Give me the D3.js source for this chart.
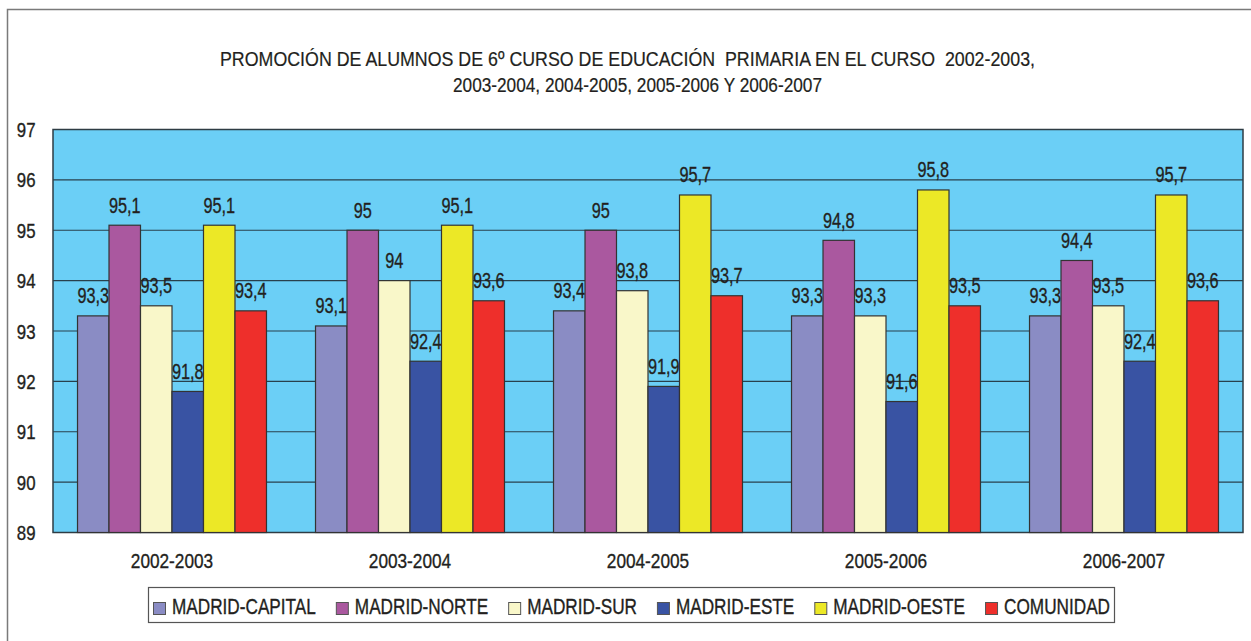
<!DOCTYPE html>
<html>
<head>
<meta charset="utf-8">
<script src="https://cdn.jsdelivr.net/npm/d3@7"></script>
<style>
  body { margin: 0; background: #fff; }
  svg { display: block; font-family: "Liberation Sans", Arial, sans-serif; }
  svg text { stroke: #231f20; stroke-width: 0.35px; }
</style>
</head>
<body>
<svg id="chart" width="1251" height="641"></svg>
<script>
const courses = ['2002-2003', '2003-2004', '2004-2005', '2005-2006', '2006-2007']
const zones = ['MADRID-CAPITAL', 'MADRID-NORTE', 'MADRID-SUR', 'MADRID-ESTE', 'MADRID-OESTE', 'COMUNIDAD']
const zoneColors = ['#8a8cc4', '#aa589f', '#f9f7c9', '#3953a3', '#ece826', '#ee2f2b']

// one array per zone, in course order
const capital = [93.3, 93.1, 93.4, 93.3, 93.3]
const norte = [95.1, 95, 95, 94.8, 94.4]
const sur = [93.5, 94, 93.8, 93.3, 93.5]
const este = [91.8, 92.4, 91.9, 91.6, 92.4]
const oeste = [95.1, 95.1, 95.7, 95.8, 95.7]
const comunidad = [93.4, 93.6, 93.7, 93.5, 93.6]
const series = [capital, norte, sur, este, oeste, comunidad]

const yTicks = [89, 90, 91, 92, 93, 94, 95, 96, 97]
const titleLines = [
  'PROMOCIÓN DE ALUMNOS DE 6º CURSO DE EDUCACIÓN\u00a0 PRIMARIA EN EL CURSO\u00a0 2002-2003,',
  '2003-2004, 2004-2005, 2005-2006 Y 2006-2007'
]

const ink = '#231f20'
const plot = { left: 53, right: 1243, top: 129.5, bottom: 532.5 }

// squeeze a text horizontally, the source uses a condensed face
function narrow (sel, k) {
  sel.each(function () {
    const w = this.getComputedTextLength()
    d3.select(this)
      .attr('textLength', (w * k).toFixed(1))
      .attr('lengthAdjust', 'spacingAndGlyphs')
  })
  return sel
}

const svg = d3.select('#chart')

// outer frame (right side runs off the picture)
svg.append('path')
  .attr('d', 'M7.5,660 V9.5 H1260')
  .attr('fill', 'none')
  .attr('stroke', '#7a7a7a')
  .attr('stroke-width', 1.5)

// title
const titleWidths = [815, 369]
svg.append('g')
  .selectAll('text')
  .data(titleLines)
  .enter().append('text')
  .attr('x', (d, i) => i === 0 ? 627.5 : 637.5)
  .attr('y', (d, i) => 66 + i * 26)
  .attr('text-anchor', 'middle')
  .attr('font-size', 20)
  .attr('fill', ink)
  .style('stroke-width', '0.2px')
  .text(d => d)
  .attr('textLength', (d, i) => titleWidths[i])
  .attr('lengthAdjust', 'spacingAndGlyphs')

const x0 = d3.scaleBand()
  .domain(courses)
  .range([plot.left, plot.right])
  .paddingInner(0.206)
  .paddingOuter(0.103)

const x1 = d3.scaleBand()
  .domain(zones)
  .range([0, x0.bandwidth()])

const y = d3.scaleLinear()
  .domain([89, 97])
  .range([plot.bottom, plot.top])

// plot background
svg.append('rect')
  .attr('x', plot.left)
  .attr('y', plot.top)
  .attr('width', plot.right - plot.left)
  .attr('height', plot.bottom - plot.top)
  .attr('fill', '#6bcff6')

// gridlines
svg.append('g')
  .selectAll('line')
  .data(yTicks.slice(1, -1))
  .enter().append('line')
  .attr('x1', plot.left)
  .attr('x2', plot.right)
  .attr('y1', d => y(d))
  .attr('y2', d => y(d))
  .attr('stroke', '#28404c')
  .attr('stroke-width', 1.2)

svg.append('rect')
  .attr('x', plot.left)
  .attr('y', plot.top)
  .attr('width', plot.right - plot.left)
  .attr('height', plot.bottom - plot.top)
  .attr('fill', 'none')
  .attr('stroke', '#2e3c44')
  .attr('stroke-width', 1.5)

// bars, one group per course
const group = svg.append('g')
  .selectAll('g')
  .data(courses)
  .enter().append('g')
  .attr('transform', d => `translate(${x0(d)},0)`)

const cells = group.selectAll('g')
  .data((c, ci) => zones.map((z, zi) => ({ zone: z, value: series[zi][ci], color: zoneColors[zi] })))
  .enter().append('g')

cells.append('rect')
  .attr('x', d => x1(d.zone))
  .attr('y', d => y(d.value))
  .attr('width', x1.bandwidth())
  .attr('height', d => plot.bottom - y(d.value))
  .attr('fill', d => d.color)
  .attr('stroke', '#333')
  .attr('stroke-width', 1.2)

cells.append('text')
  .attr('x', d => x1(d.zone) + x1.bandwidth() / 2)
  .attr('y', d => y(d.value) - 12.5)
  .attr('text-anchor', 'middle')
  .attr('font-size', 22)
  .attr('fill', ink)
  .text(d => String(d.value).replace('.', ','))
  .call(narrow, 0.74)

// y axis labels
svg.append('g')
  .selectAll('text')
  .data(yTicks)
  .enter().append('text')
  .attr('x', 35.5)
  .attr('y', d => y(d))
  .attr('dy', '0.36em')
  .attr('text-anchor', 'end')
  .attr('font-size', 21)
  .attr('fill', ink)
  .text(d => d)
  .call(narrow, 0.8)

// x axis labels
svg.append('g')
  .selectAll('text')
  .data(courses)
  .enter().append('text')
  .attr('x', d => x0(d) + x0.bandwidth() / 2)
  .attr('y', 568)
  .attr('text-anchor', 'middle')
  .attr('font-size', 21)
  .attr('fill', ink)
  .text(d => d)
  .call(narrow, 0.82)

// legend
const legend = svg.append('g')
legend.append('rect')
  .attr('x', 148.5)
  .attr('y', 587.5)
  .attr('width', 966)
  .attr('height', 35)
  .attr('fill', '#fff')
  .attr('stroke', '#555')
  .attr('stroke-width', 1.2)

const items = legend.selectAll('g')
  .data(zones)
  .enter().append('g')

const labels = items.append('text')
  .attr('y', 614)
  .attr('font-size', 21.5)
  .attr('fill', ink)
  .text(d => d)

// fit the row between the swatch start and the box end
const natural = labels.nodes().map(n => n.getComputedTextLength())
const k = (1110 - 153 - zones.length * 19 - (zones.length - 1) * 20) / d3.sum(natural)
let lx = 153
items.each(function (z, i) {
  const g = d3.select(this)
  g.insert('rect', 'text')
    .attr('x', lx + 0.5)
    .attr('y', 602.5)
    .attr('width', 12)
    .attr('height', 12)
    .attr('fill', zoneColors[i])
    .attr('stroke', '#555')
    .attr('stroke-width', 1)
  g.select('text')
    .attr('x', lx + 19)
    .attr('textLength', (natural[i] * k).toFixed(1))
    .attr('lengthAdjust', 'spacingAndGlyphs')
  lx += 19 + natural[i] * k + 20
})
</script>
</body>
</html>
